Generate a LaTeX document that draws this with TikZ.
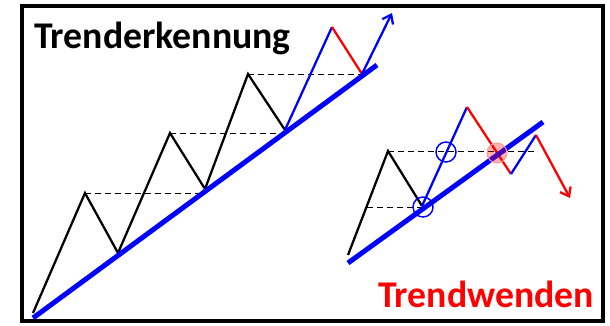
\documentclass[tikz,border=0pt]{standalone}
\usepackage{fontspec}
\setmainfont{Carlito}
\usetikzlibrary{arrows.meta}

\begin{document}
\begin{tikzpicture}[x=0.75pt, y=-0.75pt, line width=1.7pt]
  \useasboundingbox (0,0) rectangle (610,325);
  \draw[line width=3pt] (22,6) rectangle (603,321);
  \node[anchor=base west, inner sep=0, font=\bfseries\fontsize{28.3}{32}\selectfont] (titel) at (33,48) {Trenderkennung};
  \node[anchor=base west, inner sep=0, red, font=\bfseries\fontsize{28.3}{32}\selectfont] (wende) at (377,307) {Trendwenden};
  % left chart
  \coordinate (a0) at (33,313);
  \coordinate (a1) at (85,193);
  \coordinate (a2) at (118,253);
  \coordinate (a3) at (170,133);
  \coordinate (a4) at (205,189);
  \coordinate (a5) at (248,74);
  \coordinate (a6) at (285,130);
  \coordinate (a7) at (332,27);
  \coordinate (a8) at (362,74);
  \coordinate (a9) at (392,13);
  \coordinate (l0) at (33,318);
  \coordinate (l1) at (377,65);
  \draw[line width=0.75pt, dash pattern=on 4.5pt off 3pt] (a1) -- (a4 |- a1);
  \draw[line width=0.75pt, dash pattern=on 4.5pt off 3pt] (a3) -- (a6 |- a3);
  \draw[line width=0.75pt, dash pattern=on 4.5pt off 3pt] (a5) -- (a8 |- a5);
  \draw (a0) -- (a1) -- (a2) -- (a3) -- (a4) -- (a5) -- (a6);
  \draw[blue] (a6) -- (a7);
  \draw[red] (a7) -- (a8);
  \draw[-{Straight Barb[length=6pt, width=9pt]}, blue] (a8) -- (a9);
  \draw[blue, line width=3.75pt] (l0) -- (l1);
  % right chart
  \coordinate (b0) at (348,255);
  \coordinate (b1) at (388,151);
  \coordinate (b2) at (422,206);
  \coordinate (b3) at (467,107);
  \coordinate (b4) at (511,174);
  \coordinate (b5) at (536,135);
  \coordinate (b6) at (570,198);
  \coordinate (m0) at (348,263);
  \coordinate (m1) at (543,122);
  \draw[line width=0.75pt, dash pattern=on 4.5pt off 3pt] (b1) -- (535,151);
  \draw[line width=0.75pt, dash pattern=on 4.5pt off 3pt] (367,207) -- (b2 |- 0,207);
  \draw (b0) -- (b1) -- (b2);
  \draw[blue] (b2) -- (b3);
  \draw[red] (b3) -- (b4);
  \draw[blue] (b4) -- (b5);
  \draw[-{Straight Barb[length=6pt, width=9pt]}, red] (b5) -- (b6);
  \draw[blue, line width=3.75pt] (m0) -- (m1);
  \draw[blue, line width=1.1pt] (446,152) circle (10);
  \draw[blue, line width=1.1pt] (423,207) circle (10);
  \draw[red!40, fill=red, fill opacity=0.3, line width=0.75pt] (497,153) circle (10);
\end{tikzpicture}
\end{document}
